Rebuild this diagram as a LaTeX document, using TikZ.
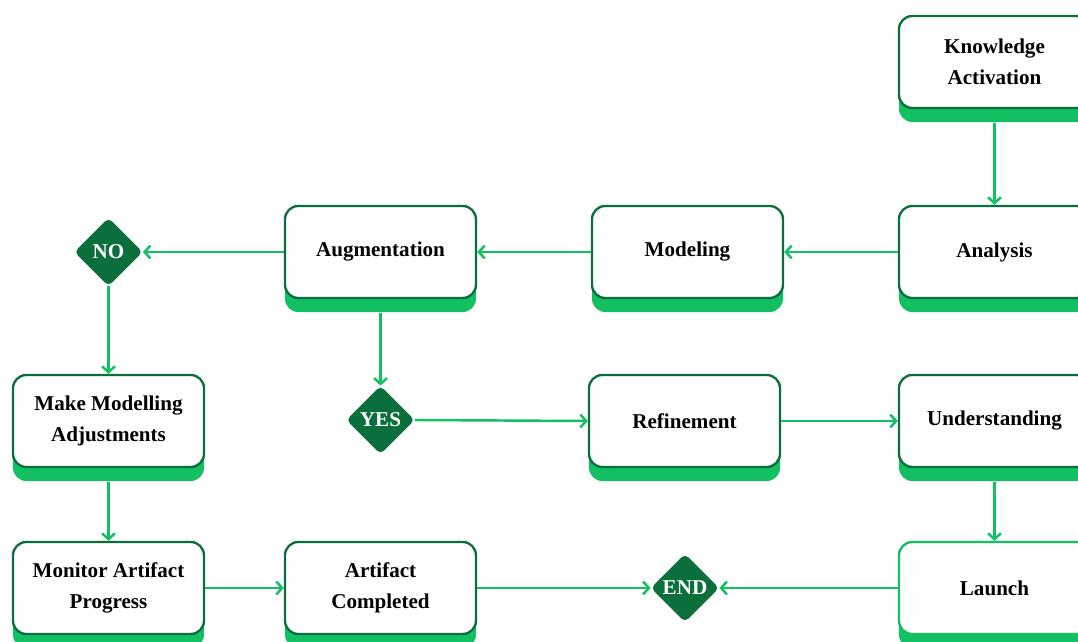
\documentclass[tikz,border=0pt]{standalone}
\usepackage{fontspec}
\setmainfont{Liberation Serif}
\usetikzlibrary{shapes.geometric,shadows,arrows.meta}
\definecolor{leaf}{HTML}{0B6F3B}
\definecolor{mint}{HTML}{12C062}

\begin{document}
\begin{tikzpicture}[x=0.03cm,y=-0.03cm,
  every node/.style={font=\fontsize{18}{26}\selectfont\bfseries},
  stage/.style={draw=leaf,line width=2pt,fill=white,rounded corners=0.4cm,
    minimum width=5.73cm,minimum height=2.76cm,align=center,
    drop shadow={shadow xshift=0cm,shadow yshift=-0.42cm,fill=mint,opacity=1}},
  gate/.style={diamond,fill=leaf,text=white,rounded corners=4pt,
    minimum width=2.05cm,minimum height=2.05cm,inner sep=0pt},
  flow/.style={draw=mint,line width=2.1pt,-{Straight Barb[length=5pt,width=11pt]}}]
\useasboundingbox (0,0) rectangle (1078,642);
\fill [white] (0,0) rectangle (1078,642);
\clip (0,0) rectangle (1078,642);
% top row
\node [stage] (know) at (994.5,62) {Knowledge\\Activation};
\node [stage] (analysis) at (994.5,252) {Analysis};
\node [stage] (model) at (687.5,252) {Modeling};
\node [stage] (augment) at (380.5,252) {Augmentation};
\node [gate] (no) at (108.5,252) {NO};
% middle row
\node [stage] (adjust) at (108.5,421) {Make Modelling\\Adjustments};
\node [gate] (yes) at (380.5,420) {YES};
\node [stage] (refine) at (684.5,421) {Refinement};
\node [stage] (understand) at (994.5,421) {Understanding};
% bottom row
\node [stage] (monitor) at (108.5,588) {Monitor Artifact\\Progress};
\node [stage] (complete) at (380.5,588) {Artifact\\Completed};
\node [gate] (end) at (685,588) {END};
\node [stage,draw=mint] (launch) at (994.5,588) {Launch};
% connectors
\draw [flow] ([yshift=-0.42cm]know.south) -- (analysis.north);
\draw [flow] (analysis) -- (model);
\draw [flow] (model) -- (augment);
\draw [flow] (augment) -- (no);
\draw [flow] (no) -- (adjust);
\draw [flow] ([yshift=-0.42cm]augment.south) -- (yes.north);
\draw [flow] (yes.east) -- (refine.west);
\draw [flow] (refine) -- (understand);
\draw [flow] ([yshift=-0.42cm]understand.south) -- (launch.north);
\draw [flow] ([yshift=-0.42cm]adjust.south) -- (monitor.north);
\draw [flow] (monitor) -- (complete);
\draw [flow] (complete) -- (end);
\draw [flow] (launch) -- (end);
\end{tikzpicture}
\end{document}
